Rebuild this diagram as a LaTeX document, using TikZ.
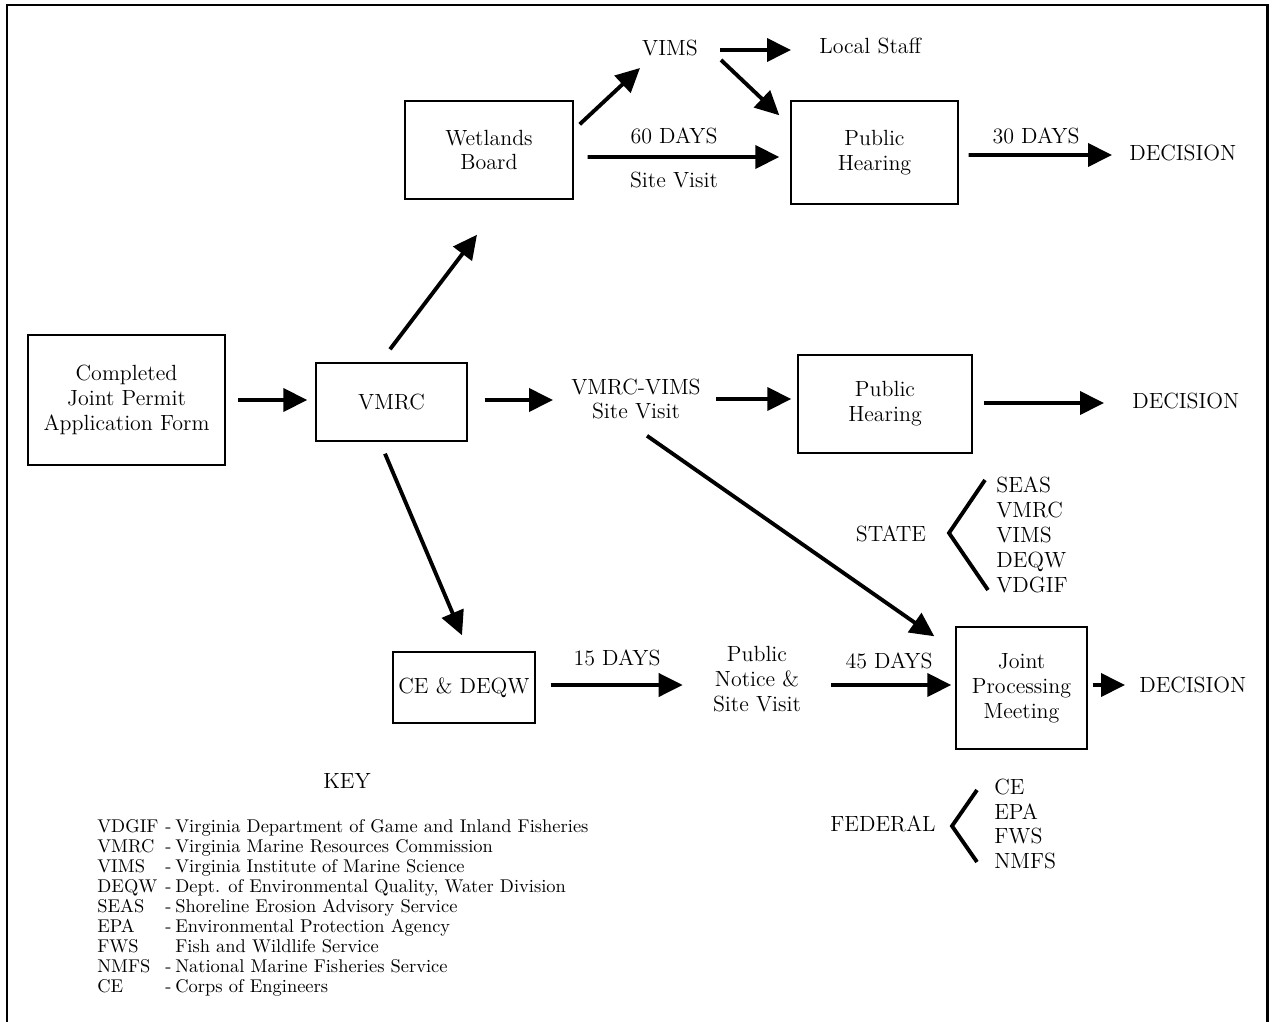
\documentclass[tikz,border=0pt]{standalone}
\usepackage{xcolor}
\usepackage{tikz}
\usetikzlibrary{arrows.meta,calc}

\begin{document}
\begin{tikzpicture}[x=0.2mm,y=-0.2mm,
  every node/.style={font=\fontsize{12.5}{14.2}\selectfont},
  box/.style={draw,line width=0.8pt,align=center,inner sep=0pt},
  txt/.style={align=center,inner sep=0pt},
  flow/.style={line width=2.2pt,-{Triangle[length=0.48cm,width=0.46cm]}},
  brace/.style={line width=2.2pt,line join=miter}]
\useasboundingbox (0,0) rectangle (1272,1022);
% outer frame
\draw[line width=1.7pt] (7,1022) -- (7,5) -- (1267,5) -- (1267,1022);

% boxes
\node[box,minimum width=3.94cm,minimum height=2.6cm] (cjp) at (126.5,400) {Completed\\Joint Permit\\Application Form};
\node[box,minimum width=3.02cm,minimum height=1.56cm] (vmrc) at (391.5,402) {VMRC};
\node[box,minimum width=3.36cm,minimum height=1.96cm] (wb) at (489,150) {Wetlands\\Board};
\node[box,minimum width=3.34cm,minimum height=2.06cm] (ph1) at (874.5,152.5) {Public\\Hearing};
\node[box,minimum width=3.48cm,minimum height=1.96cm] (ph2) at (885,404) {Public\\Hearing};
\node[box,minimum width=2.84cm,minimum height=1.42cm] (ced) at (464,687.5) {CE \& DEQW};
\node[box,minimum width=2.62cm,minimum height=2.44cm] (jpm) at (1021.5,688) {Joint\\Processing\\Meeting};

% plain text
\node[txt] (vims) at (670,48) {VIMS};
\node[txt,anchor=west] (local) at (819,46) {Local Staff};
\node[txt,anchor=west] (vv) at (571,399) {VMRC-VIMS\\Site Visit};
\node[txt] (pnsv) at (757,679) {Public\\Notice \&\\Site Visit};
\node[txt,anchor=west] (dec1) at (1129,153) {DECISION};
\node[txt,anchor=west] (dec2) at (1132,401) {DECISION};
\node[txt,anchor=west] (dec3) at (1139,685) {DECISION};
\node[txt] (d60) at (674,136) {60 DAYS};
\node[txt] (sv60) at (674,180) {Site Visit};
\node[txt] (d30) at (1036,136) {30 DAYS};
\node[txt] (d15) at (617,658) {15 DAYS};
\node[txt] (d45) at (889,661) {45 DAYS};

% flows
\draw[flow] ($(cjp.east)+(12,0)$) -- ($(vmrc.west)+(-8,-2)$);
\draw[flow] ($(vmrc.east)+(17,-2)$) -- ($(vv.west)+(-18,1)$);
\draw[flow] ($(vv.east)+(15,0)$) -- ($(ph2.west)+(-6,-5)$);
\draw[flow] ($(ph2.east)+(11,-1)$) -- ($(dec2.west)+(-28,2)$);
\draw[flow] ($(vmrc.north)+(-1.5,-13)$) -- ($(wb.south)+(-12,35)$);
\draw[flow] ($(vmrc.south)+(-6.5,12)$) -- ($(ced.north)+(-2,-16)$);
\draw[flow] ($(wb.north east)+(6,24)$) -- ($(vims)+(-30,20)$);
\draw[flow] ($(vims)+(50,2)$) -- ($(local.west)+(-28,4)$);
\draw[flow] ($(vims)+(51,12)$) -- ($(ph1.north west)+(-11,15)$);
\draw[flow] ($(wb.east)+(14,7)$) -- ($(ph1.west)+(-11,4.5)$);
\draw[flow] ($(ph1.east)+(10,2.5)$) -- ($(dec1.west)+(-17,2)$);
\draw[flow] ($(vv.south)+(11,16)$) -- ($(jpm.north west)+(-21,10)$);
\draw[flow] ($(ced.east)+(15,-2.5)$) -- ($(pnsv.west)+(-30,6)$);
\draw[flow] ($(pnsv.east)+(30,6)$) -- ($(jpm.west)+(-4,-3)$);
\draw[flow] ($(jpm.east)+(5,-3)$) -- ($(dec3.west)+(-14,0)$);

% state / federal agencies
\node[txt] (state) at (891,534) {STATE};
\node[txt,anchor=west,align=left] (statelist) at (996,535) {SEAS\\VMRC\\VIMS\\DEQW\\VDGIF};
\draw[brace] ($(statelist.west)+(-11,-55)$) -- ($(statelist.west)+(-47,-2)$) -- ($(statelist.west)+(-8,55)$);
\node[txt] (federal) at (883,824) {FEDERAL};
\node[txt,anchor=west,align=left] (fedlist) at (994,824) {CE\\EPA\\FWS\\NMFS};
\draw[brace] ($(fedlist.west)+(-17,-34)$) -- ($(fedlist.west)+(-42,2)$) -- ($(fedlist.west)+(-17,38)$);

% key
\node[txt] (key) at (347,781) {KEY};
\node[txt,anchor=west,font=\fontsize{10.5}{11.4}\selectfont] (keylist) at (97,908.5) {%
  \begin{tabular}{@{}p{1.36cm}@{}p{0.2cm}@{}l@{}}
  VDGIF & - & Virginia Department of Game and Inland Fisheries\\
  VMRC & - & Virginia Marine Resources Commission\\
  VIMS & - & Virginia Institute of Marine Science\\
  DEQW & - & Dept. of Environmental Quality, Water Division\\
  SEAS & - & Shoreline Erosion Advisory Service\\
  EPA & - & Environmental Protection Agency\\
  FWS & & Fish and Wildlife Service\\
  NMFS & - & National Marine Fisheries Service\\
  CE & - & Corps of Engineers
  \end{tabular}};
\end{tikzpicture}
\end{document}
